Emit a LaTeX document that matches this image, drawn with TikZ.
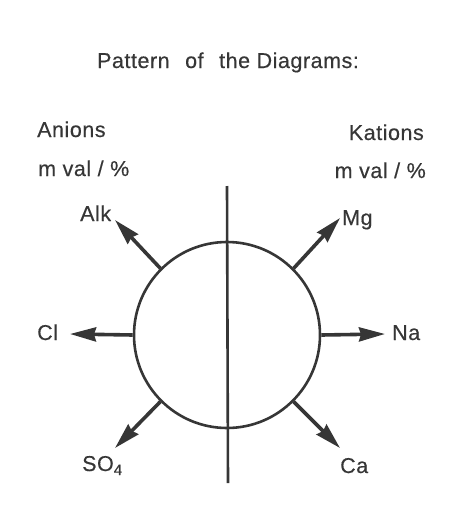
\documentclass[tikz,border=0pt]{standalone}
\usepackage{fontspec}
\setmainfont[LetterSpace=2.5, FakeBold=0.4]{Liberation Sans}
\usetikzlibrary{arrows.meta}
\definecolor{ink}{HTML}{363636}

\begin{document}
\begin{tikzpicture}[
    x=1pt, y=-1pt,
    lbl/.style={anchor=base west, inner sep=0pt, text=ink, font=\fontsize{21.5}{24}\selectfont},
    ring/.style={draw=ink, circle, line width=2.6pt, minimum size=186pt, inner sep=0pt},
    ray/.style={->, draw=ink, line width=3.6pt},
    >={Stealth[length=26pt, width=14pt, inset=2pt]}
]
  \path[use as bounding box] (0,0) rectangle (462,506);

  % heading
  \node[lbl, anchor=base] (title) at (228,68) {Pattern\hspace{9pt} of\hspace{9pt} the Diagrams:};
  \node[lbl] (an) at (37,137) {Anions};
  \node[lbl] (anu) at (38,176) {m val / \%};
  \node[lbl, anchor=base east] (kat) at (424,140) {Kations};
  \node[lbl, anchor=base east] (katu) at (426,178) {m val / \%};

  % circle and axis
  \node[ring] (c) at (227,335) {};
  \coordinate (axtop) at (227,186);
  \coordinate (axbot) at (228,483);
  \draw[ink, line width=2.6pt] (axtop) -- (axbot);

  % arrow tips
  \coordinate (tAlk) at (115,220);
  \coordinate (tMg) at (340,218);
  \coordinate (tCl) at (70,334);
  \coordinate (tNa) at (385,334);
  \coordinate (tSO) at (115,448);
  \coordinate (tCa) at (340,448);

  \draw[ray] (c.135) -- (tAlk);
  \draw[ray] (c.45) -- (tMg);
  \draw[ray] (c.180) -- (tCl);
  \draw[ray] (c.0) -- (tNa);
  \draw[ray] (c.225) -- (tSO);
  \draw[ray] (c.315) -- (tCa);

  % ions
  \node[lbl] (alk) at (80,221) {Alk};
  \node[lbl] (mg) at (342,225) {Mg};
  \node[lbl] (cl) at (37,340) {Cl};
  \node[lbl] (na) at (392,340) {Na};
  \node[lbl] (so4) at (82,471) {SO\raisebox{-4pt}{\fontsize{15}{15}\selectfont 4}};
  \node[lbl] (ca) at (340,473) {Ca};
\end{tikzpicture}
\end{document}
